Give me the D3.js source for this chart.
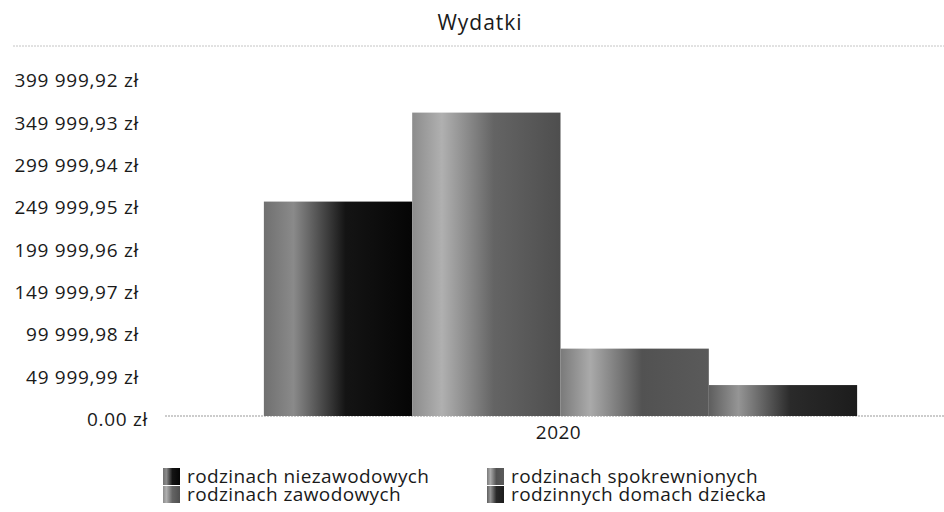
<!DOCTYPE html>
<html>
<head>
<meta charset="utf-8">
<script src="https://cdn.jsdelivr.net/npm/d3@7"></script>
<style>
  body { margin: 0; background: #fff; }
  text { font-family: "Open Sans", "Noto Sans", sans-serif; fill: #1a1a1a; }
</style>
</head>
<body>
<div id="chart"></div>
<script>
var width = 944,
  height = 512;

// data
var title = "Wydatki";
var years = ["2020"];
var seriesNames = [
  "rodzinach niezawodowych",
  "rodzinach zawodowych",
  "rodzinach spokrewnionych",
  "rodzinnych domach dziecka"
];
var seriesValues = [253000, 358000, 79500, 36500];
var tickValues = [0, 49999.99, 99999.98, 149999.97, 199999.96, 249999.95, 299999.94, 349999.93, 399999.92];
var tickLabels = ["0.00 zł", "49 999,99 zł", "99 999,98 zł", "149 999,97 zł", "199 999,96 zł",
  "249 999,95 zł", "299 999,94 zł", "349 999,93 zł", "399 999,92 zł"];
// gradient stops per series: left, highlight, mid, right
var seriesShades = [
  ["#707070", "#8a8a8a", "#141414", "#050505"],
  ["#8c8c8c", "#b0b0b0", "#646464", "#4e4e4e"],
  ["#7a7a7a", "#aaaaaa", "#525252", "#5a5a5a"],
  ["#5e5e5e", "#959595", "#2a2a2a", "#1c1c1c"]
];

var margin = { left: 165, right: -12, top: 46, bottom: 96 };

var svg = d3
  .select("#chart")
  .append("svg")
  .attr("width", width)
  .attr("height", height);

var defs = svg.append("defs");
seriesShades.forEach(function(s, i) {
  var g = defs
    .append("linearGradient")
    .attr("id", "grad" + i)
    .attr("x1", "0%")
    .attr("x2", "100%")
    .attr("y1", "0%")
    .attr("y2", "0%");
  [0, 0.2, 0.55, 1].forEach(function(off, j) {
    g.append("stop").attr("offset", off * 100 + "%").attr("stop-color", s[j]);
  });
});

var y = d3
  .scaleLinear()
  .domain([0, 399999.92])
  .range([416, 77]);

var x0 = d3
  .scaleBand()
  .domain(years)
  .range([margin.left, width - margin.right])
  .paddingInner(0.25)
  .paddingOuter(0.125);

var x1 = d3
  .scaleBand()
  .domain(seriesNames)
  .range([0, x0.bandwidth()]);

// title
svg
  .append("text")
  .attr("x", 480)
  .attr("y", 30)
  .attr("text-anchor", "middle")
  .style("font-size", "21px")
  .style("letter-spacing", "1px")
  .text(title);

svg
  .append("line")
  .attr("x1", 13)
  .attr("x2", width)
  .attr("y1", 46)
  .attr("y2", 46)
  .attr("stroke", "#c4c4c4")
  .attr("stroke-dasharray", "2,1");

// y axis labels
var yAxis = d3
  .axisLeft(y)
  .tickValues(tickValues)
  .tickSize(0)
  .tickPadding(0)
  .tickFormat(function(d, i) {
    return tickLabels[i];
  });

var yg = svg
  .append("g")
  .attr("transform", "translate(139,3)")
  .call(yAxis);
yg.select(".domain").remove();
yg.selectAll("text")
  .attr("x", function(d) {
    return d === 0 ? 9 : 0;
  })
  .attr("dy", "0.35em")
  .style("font-size", "19px")
  .style("letter-spacing", "0.7px")
  .style("font-family", '"Open Sans", sans-serif')
  .attr("fill", "#1a1a1a");

// baseline
svg
  .append("line")
  .attr("x1", margin.left)
  .attr("x2", width)
  .attr("y1", y(0))
  .attr("y2", y(0))
  .attr("stroke", "#999")
  .attr("stroke-dasharray", "2,1");

// bars
var groups = svg
  .selectAll("g.year")
  .data(years)
  .enter()
  .append("g")
  .attr("class", "year")
  .attr("transform", function(d) {
    return "translate(" + x0(d) + ",0)";
  });

groups
  .selectAll("rect")
  .data(seriesNames.map(function(n, i) {
    return { name: n, value: seriesValues[i], i: i };
  }))
  .enter()
  .append("rect")
  .attr("x", function(d) { return x1(d.name); })
  .attr("width", x1.bandwidth())
  .attr("y", function(d) { return y(d.value); })
  .attr("height", function(d) { return y(0) - y(d.value); })
  .attr("fill", function(d) { return "url(#grad" + d.i + ")"; });

// x axis label
var xAxis = d3.axisBottom(x0).tickSize(0).tickPadding(0);
var xg = svg
  .append("g")
  .attr("transform", "translate(-2," + (y(0) + 9) + ")")
  .call(xAxis);
xg.select(".domain").remove();
xg.selectAll("text")
  .style("font-size", "19px")
  .style("letter-spacing", "0.5px")
  .style("font-family", '"Open Sans", sans-serif')
  .attr("fill", "#1a1a1a");

// legend, two columns filled top to bottom
var legend = svg
  .selectAll("g.legend")
  .data(seriesNames)
  .enter()
  .append("g")
  .attr("class", "legend")
  .attr("transform", function(d, i) {
    var col = Math.floor(i / 2),
      row = i % 2;
    return "translate(" + (163 + col * 324) + "," + (468 + row * 18) + ")";
  });

legend
  .append("rect")
  .attr("width", 17)
  .attr("height", 17)
  .attr("fill", function(d, i) { return "url(#grad" + i + ")"; });

legend
  .append("text")
  .attr("x", 24)
  .attr("y", 9)
  .attr("dy", "0.33em")
  .style("font-size", "19px")
  .style("letter-spacing", "0.4px")
  .text(function(d) { return d; });
</script>
</body>
</html>
